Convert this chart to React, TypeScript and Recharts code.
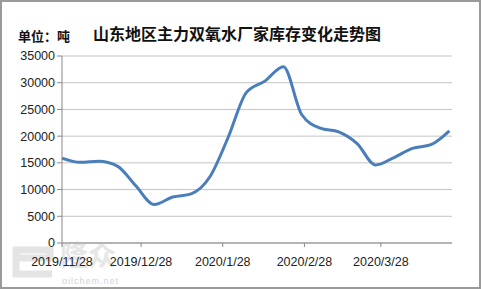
import { LineChart, Line, XAxis, YAxis, CartesianGrid } from 'recharts';

const dates = [
  '2019/11/28', '2019/12/5', '2019/12/12', '2019/12/19', '2019/12/26', '2020/1/2',
  '2020/1/9', '2020/1/16', '2020/1/23', '2020/1/30', '2020/2/6', '2020/2/13',
  '2020/2/20', '2020/2/27', '2020/3/5', '2020/3/12', '2020/3/19', '2020/3/26',
  '2020/4/2', '2020/4/9', '2020/4/16', '2020/4/23',
];
const stock = [
  15900, 15100, 15300, 14400, 10700, 7200,
  8600, 9200, 12300, 19700, 28200, 30300,
  33000, 24000, 21500, 20800, 18600, 14600,
  16000, 17700, 18400, 21000,
];
const tickDates = ['2019/11/28', '2019/12/28', '2020/1/28', '2020/2/28', '2020/3/28'];
const yTicks = [0, 5000, 10000, 15000, 20000, 25000, 30000, 35000];

const dayOf = (s: string) => {
  const [y, m, d] = s.split('/').map(Number);
  return Date.UTC(y, m - 1, d) / 86400000;
};
const start = dayOf(dates[0]);

const data = dates.map((d, i) => ({ day: dayOf(d) - start, value: stock[i] }));
const xTicks = tickDates.map(d => dayOf(d) - start);
const labelOf = (v: number) => tickDates[xTicks.indexOf(v)] ?? '';

const tickFont = { fontFamily: '"Liberation Sans", Arial, sans-serif', fontSize: 12.5, fill: '#222' };

export default function App() {
  return (
    <div style={{ position: 'fixed', left: 0, top: 0, width: 481, height: 289, background: '#fff' }}>
      <LineChart width={481} height={289} data={data} margin={{ top: 56, right: 29, bottom: 14, left: 0 }}>
        <text x={18} y={41} style={{ fontFamily: '"Noto Sans CJK SC"', fontSize: 13, fontWeight: 700, fill: '#111' }}>
          单位：吨
        </text>
        <text x={93} y={40} style={{ fontFamily: '"Noto Sans CJK SC"', fontSize: 16, fontWeight: 700, fill: '#111' }}>
          山东地区主力双氧水厂家库存变化走势图
        </text>
        {/* watermark */}
        <path d="M 16 258 H 50 V 250 H 16 V 274 H 52" fill="none" stroke="#e4e4e4" strokeWidth={7} />
        <text x={60} y={266} style={{ fontFamily: '"Noto Sans CJK SC"', fontSize: 28, fontWeight: 700, fill: '#e6e6e6' }}>
          隆众
        </text>
        <text x={62} y={284} style={{ fontFamily: '"Liberation Sans", sans-serif', fontSize: 9, fill: '#d2d2d2', letterSpacing: 1 }}>
          oilchem.net
        </text>
        <CartesianGrid vertical={false} stroke="#c4c4c4" />
        <XAxis
          dataKey="day"
          type="number"
          domain={[0, 148]}
          ticks={xTicks}
          tickFormatter={labelOf}
          interval={0}
          tick={tickFont}
          tickLine={{ stroke: '#888' }}
          tickSize={4}
          tickMargin={10}
          axisLine={{ stroke: '#888' }}
          height={32}
        />
        <YAxis
          domain={[0, 35000]}
          ticks={yTicks}
          interval={0}
          tick={tickFont}
          tickLine={{ stroke: '#888' }}
          tickSize={5}
          axisLine={{ stroke: '#888' }}
          width={62}
        />
        <Line type="monotone" dataKey="value" stroke="#4a7ebb" strokeWidth={3} dot={false} isAnimationActive={false} />
      </LineChart>
      <div style={{ position: 'absolute', left: 0, top: 0, width: 481, height: 289, boxSizing: 'border-box', border: '2px solid #9a9a9a', pointerEvents: 'none' }} />
    </div>
  );
}
